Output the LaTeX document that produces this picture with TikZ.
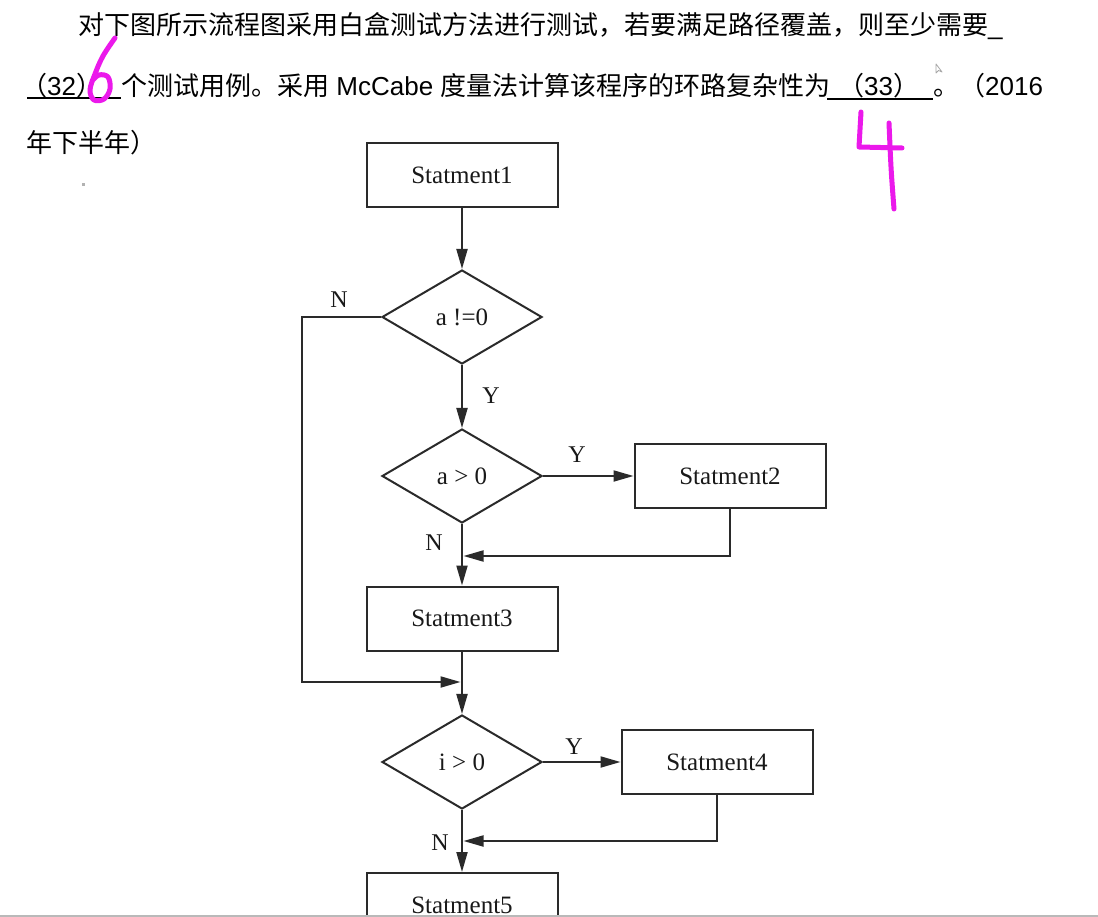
\documentclass[tikz,border=0pt]{standalone}
\usepackage{fontspec}
\setmainfont{Liberation Sans}
\newfontfamily\cjkfont{Noto Sans CJK SC}
\newfontfamily\fcfont{Liberation Serif}
\usetikzlibrary{arrows.meta,shapes.geometric}
\definecolor{ink}{HTML}{2A2A2A}
\definecolor{pen}{RGB}{235,25,235}
\begin{document}
\begin{tikzpicture}[x=1pt,y=-1pt,
  hdr/.style={anchor=base west,inner sep=0pt,font=\fontsize{26}{26}\selectfont,text=black},
  box/.style={draw=ink,line width=2pt,minimum width=191pt,minimum height=64pt,inner sep=0pt,
    font=\fcfont\fontsize{25}{25}\selectfont,text=black!90},
  dec/.style={draw=ink,line width=2pt,diamond,minimum width=160pt,minimum height=94pt,inner sep=0pt,
    font=\fcfont\fontsize{25}{25}\selectfont,text=black!90},
  lbl/.style={inner sep=0pt,font=\fcfont\fontsize{24}{24}\selectfont,text=black!90},
  arr/.style={draw=ink,line width=2pt,-{Triangle[length=20pt,width=11pt]}},
  pen/.style={draw=pen,line width=5pt,line cap=round,line join=round}]
\useasboundingbox (0,0) rectangle (1098,917);
\clip (0,0) rectangle (1098,917);
\fill[white] (0,0) rectangle (1098,917);

% header text
\node[hdr] (t1) at (78,35) {{\cjkfont 对下图所示流程图采用白盒测试方法进行测试，若要满足路径覆盖，则至少需要}\_};
\node[hdr] (q32) at (21,96) {{\cjkfont （}32{\cjkfont ）}};
\node[hdr] (t2) at (121,96) {{\cjkfont 个测试用例。采用} McCabe {\cjkfont 度量法计算该程序的环路复杂性为}};
\node[hdr] (q33) at (838,96) {{\cjkfont （}33{\cjkfont ）}};
\node[hdr] (t3) at (933,96) {{\cjkfont 。（}2016};
\node[hdr] (t4) at (26,153) {\cjkfont 年下半年）};
\draw[line width=2pt] (27,98.5) -- (121,98.5);
\draw[line width=2pt] (827,99) -- (933,99);

% small marks
\fill[gray!60] (82,183.5) rectangle (85,186.5);
\draw[gray!70,line width=0.8pt,line join=round] (936,64) -- (936,73) -- (938.5,70.5) -- (942,72) -- cycle;

% flowchart nodes
\node[box] (s1) at (462,175) {Statment1};
\node[dec] (d1) at (462,317) {a !=0};
\node[dec] (d2) at (462,476) {a > 0};
\node[box] (s2) at (730,476) {Statment2};
\node[box] (s3) at (462,618.5) {Statment3};
\node[dec] (d3) at (462,762) {i > 0};
\node[box] (s4) at (717,762) {Statment4};
\node[box] (s5) at (462,905) {Statment5};

\coordinate (lft) at (302,682);
\coordinate (j1) at (463.5,556);
\coordinate (j2) at (460.5,682);
\coordinate (j3) at (463.5,841);

% connectors
\draw[arr] (s1) -- (d1);
\draw[arr] (d1) -- (d2);
\draw[arr] (d1.west) -| (lft) -- (j2);
\draw[arr] (d2) -- (s2);
\draw[arr] (s2.south) |- (j1);
\draw[arr] (d2) -- (s3);
\draw[arr] (s3) -- (d3);
\draw[arr] (d3) -- (s4);
\draw[arr] (s4.south) |- (j3);
\draw[arr] (d3) -- (s5);

% labels
\node[lbl] (n1) at (339,300) {N};
\node[lbl] (y1) at (491,396) {Y};
\node[lbl] (y2) at (577,455) {Y};
\node[lbl] (n2) at (434,543) {N};
\node[lbl] (y3) at (574,747) {Y};
\node[lbl] (n3) at (440,843) {N};

% handwriting
\draw[pen] plot[smooth,tension=0.6] coordinates {(115,38) (103,56) (95,74) (90,90) (94,100) (104,99) (110,89) (108,77) (99,75) (92,81)};
\draw[pen] (861,112) -- (859,147) -- (902,148);
\draw[pen] (889,123) .. controls (891,170) .. (894,209);

% bottom edge
\draw[gray!55,line width=2pt] (0,915.5) -- (1098,915.5);
\end{tikzpicture}
\end{document}
